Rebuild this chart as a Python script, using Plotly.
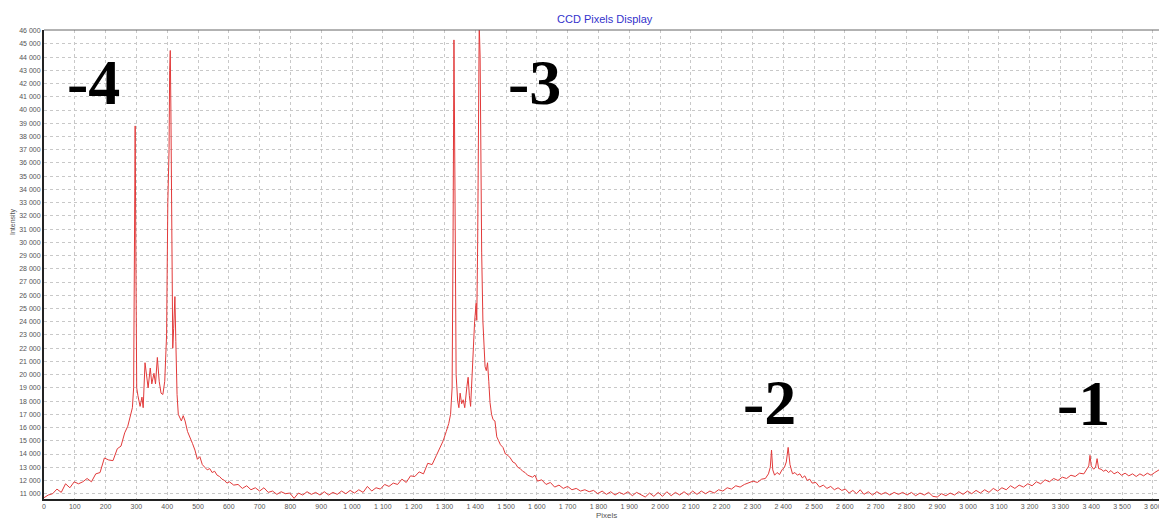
import plotly.graph_objects as go

pixels = [
    0, 14, 28, 42, 56, 70, 84, 98, 112, 126, 140, 154, 168, 182, 196, 210, 224, 238, 250, 262,
    272, 280, 287, 291, 294, 296, 298, 301, 305, 312, 318, 322, 328, 333, 338, 345, 350, 357, 362, 368,
    374, 380, 386, 392, 398, 402, 406, 408, 410, 412, 415, 418, 421, 425, 428, 432, 436, 440, 446, 452,
    458, 466, 474, 482, 490, 498, 506, 514, 522, 530, 538, 546, 554, 562, 570, 578, 586, 594, 602, 616,
    630, 644, 658, 672, 686, 700, 714, 728, 742, 756, 770, 784, 798, 812, 826, 840, 854, 868, 882, 896,
    910, 924, 938, 952, 966, 980, 994, 1008, 1022, 1036, 1050, 1064, 1078, 1092, 1106, 1120, 1134, 1148, 1162, 1176,
    1190, 1204, 1218, 1232, 1246, 1260, 1274, 1286, 1296, 1306, 1314, 1320, 1325, 1328, 1331, 1334, 1338, 1343, 1347, 1351,
    1356, 1361, 1366, 1373, 1377, 1381, 1385, 1390, 1393, 1398, 1403, 1405, 1408, 1411, 1413, 1416, 1419, 1421, 1425, 1429,
    1432, 1436, 1440, 1444, 1448, 1453, 1458, 1464, 1470, 1476, 1482, 1490, 1498, 1506, 1514, 1522, 1530, 1538, 1546, 1554,
    1562, 1570, 1578, 1586, 1594, 1602, 1616, 1630, 1644, 1658, 1672, 1686, 1700, 1714, 1728, 1742, 1756, 1770, 1784, 1798,
    1812, 1826, 1840, 1854, 1868, 1882, 1896, 1910, 1924, 1938, 1952, 1966, 1980, 1994, 2008, 2022, 2036, 2050, 2064, 2078,
    2092, 2106, 2120, 2134, 2148, 2162, 2176, 2190, 2204, 2218, 2232, 2246, 2260, 2274, 2288, 2302, 2316, 2330, 2342, 2352,
    2358, 2362, 2366, 2372, 2380, 2388, 2396, 2404, 2410, 2416, 2422, 2430, 2438, 2446, 2454, 2462, 2470, 2478, 2486, 2494,
    2506, 2518, 2530, 2542, 2554, 2566, 2578, 2590, 2602, 2614, 2626, 2638, 2650, 2662, 2676, 2690, 2704, 2718, 2732, 2746,
    2760, 2774, 2788, 2802, 2816, 2830, 2844, 2858, 2872, 2886, 2900, 2914, 2928, 2942, 2956, 2970, 2984, 2998, 3012, 3026,
    3040, 3054, 3068, 3082, 3096, 3110, 3124, 3138, 3152, 3166, 3180, 3194, 3208, 3222, 3236, 3250, 3264, 3278, 3292, 3306,
    3320, 3334, 3348, 3362, 3376, 3386, 3392, 3396, 3400, 3408, 3414, 3419, 3424, 3432, 3440, 3448, 3456, 3464, 3474, 3486,
    3498, 3510, 3522, 3534, 3546, 3558, 3570, 3582, 3594, 3606, 3620,
]

intensity = [
    10700, 10900, 11000, 11350, 11100, 11750, 11450, 11900, 11750, 11900, 12150, 11900, 12500, 12600, 13700, 13550, 13500, 14400, 14600, 15600,
    16100, 16900, 17500, 19000, 33000, 38800, 30000, 19000, 18400, 17600, 18300, 17500, 20900, 19800, 19000, 20500, 19300, 20100, 19300, 21300,
    19500, 18600, 18500, 19500, 23000, 33000, 37000, 43000, 44500, 40000, 30000, 22000, 23500, 25900, 22500, 18500, 17000, 16800, 16500, 16900,
    16500, 15700, 15300, 14800, 14300, 13600, 13800, 13200, 13000, 12800, 12900, 12600, 12700, 12400, 12300, 12100, 12000, 11800, 11900, 11650,
    11700, 11400, 11600, 11300, 11450, 11200, 11450, 11100, 11200, 10950, 11150, 11000, 11050, 10650, 11050, 10900, 11150, 10950, 11100, 10900,
    11150, 10900, 11100, 10950, 11200, 11000, 11250, 11050, 11300, 11100, 11550, 11200, 11450, 11350, 11700, 11550, 11800, 11700, 12100, 11850,
    12350, 12300, 12650, 12500, 13300, 13200, 13900, 14500, 15000, 15700, 16300, 17000, 19000, 30000, 45300, 35000, 20000, 18000, 17500, 18600,
    17800, 18100, 17500, 19100, 19800, 18400, 17600, 20000, 21900, 24000, 25400, 24100, 30000, 42000, 46500, 44000, 33000, 29200, 24000, 21500,
    20600, 20300, 20900, 19500, 17900, 17000, 16600, 16500, 15300, 15000, 14700, 14500, 14000, 13900, 13700, 13400, 13300, 13000, 12900, 12700,
    12600, 12400, 12350, 12250, 12400, 11950, 12050, 11700, 11850, 11500, 11650, 11400, 11550, 11300, 11400, 11200, 11300, 11150, 11250, 11000,
    11200, 10950, 11150, 10900, 11100, 10950, 11150, 10850, 11100, 10900, 10750, 11050, 10800, 11100, 10800, 11150, 10850, 11100, 10900, 11150,
    10900, 11200, 10950, 11200, 11000, 11200, 11050, 11300, 11200, 11450, 11350, 11600, 11500, 11700, 11800, 11950, 11850, 12100, 12150, 12500,
    13000, 14300, 12800, 12400, 12600, 12450, 12800, 13000, 13400, 14500, 13200, 12500, 12600, 12400, 12500, 12200, 12350, 12000, 12100, 11800,
    11850, 11500, 11650, 11400, 11550, 11300, 11450, 11250, 11350, 11050, 11250, 11000, 11300, 10950, 11150, 10900, 11150, 10950, 11100, 10900,
    11100, 10950, 11100, 10900, 11100, 10850, 11050, 10900, 11100, 10800, 10750, 11000, 10850, 11050, 10900, 11150, 10950, 11200, 11000, 11250,
    11050, 11300, 11100, 11400, 11200, 11450, 11300, 11600, 11400, 11650, 11500, 11750, 11600, 11900, 11750, 12050, 11900, 12150, 12000, 12250,
    12150, 12400, 12300, 12550, 12500, 12900, 13100, 13900, 13100, 12850, 13000, 13650, 12900, 12850, 12700, 12800, 12600, 12750, 12500, 12650,
    12400, 12550, 12350, 12500, 12300, 12500, 12350, 12550, 12400, 12600, 12800,
]

order_labels = ["-4", "-3", "-2", "-1"]
order_label_x = [162, 1594, 2357, 3376]
order_label_y = [42050, 42050, 17900, 17850]

fig = go.Figure()
fig.add_trace(go.Scatter(
    x=pixels, y=intensity, mode="lines",
    line=dict(color="#e23a3a", width=1),
    hoverinfo="skip", showlegend=False,
))

for lab, lx, ly in zip(order_labels, order_label_x, order_label_y):
    fig.add_annotation(
        x=lx, y=ly, xref="x", yref="y", text=f"<b>{lab}</b>", showarrow=False,
        font=dict(family="Liberation Serif", size=64, color="#000000"),
        xanchor="center", yanchor="middle",
    )

# plot area spans pixels x 44..1159, y 30..499 (width 1115, height 469)
fig.add_annotation(
    x=(605 - 44) / 1115, y=(499 - 19) / 469, xref="paper", yref="paper",
    xanchor="center", yanchor="middle",
    text="CCD Pixels Display", showarrow=False,
    font=dict(family="Liberation Sans", size=11, color="#3333cc"),
)
fig.add_annotation(
    x=(607 - 44) / 1115, y=(499 - 515) / 469, xref="paper", yref="paper",
    xanchor="center", yanchor="middle",
    text="Pixels", showarrow=False,
    font=dict(family="Liberation Sans", size=8, color="#555555"),
)
fig.add_annotation(
    x=(13 - 44) / 1115, y=(499 - 222) / 469, xref="paper", yref="paper", textangle=-90,
    text="Intensity", showarrow=False, xanchor="center", yanchor="middle",
    font=dict(family="Liberation Sans", size=7, color="#555555"),
)

fig.update_layout(
    width=1159, height=520,
    margin=dict(l=44, r=0, t=30, b=21, autoexpand=False),
    paper_bgcolor="white", plot_bgcolor="white",
    separators=". ",
    font=dict(family="Liberation Sans", size=7, color="#555555"),
    xaxis=dict(
        range=[0, 3620], dtick=100, tick0=0, tickformat=",d",
        showgrid=True, gridcolor="#c8c8c8", griddash="dot", gridwidth=1,
        showline=True, linecolor="#222222", linewidth=2, mirror=False,
        zeroline=False, ticks="", ticklen=0, ticklabeloverflow="allow",
        tickfont=dict(size=7, color="#555555"),
    ),
    yaxis=dict(
        range=[10600, 46050], dtick=1000, tick0=0, tickformat=",d",
        showgrid=True, gridcolor="#c8c8c8", griddash="dot", gridwidth=1,
        showline=True, linecolor="#222222", linewidth=2,
        zeroline=False, ticks="", ticklen=0,
        tickfont=dict(size=7, color="#555555"),
    ),
)
fig.add_shape(type="line", xref="paper", yref="paper", x0=0, x1=1, y0=1, y1=1,
              line=dict(color="#666666", width=1))

fig.write_html(
    "out.html",
    config={"displayModeBar": False},
    post_script="document.body.style.margin='0';document.body.style.padding='0';document.body.style.overflow='hidden';",
)
